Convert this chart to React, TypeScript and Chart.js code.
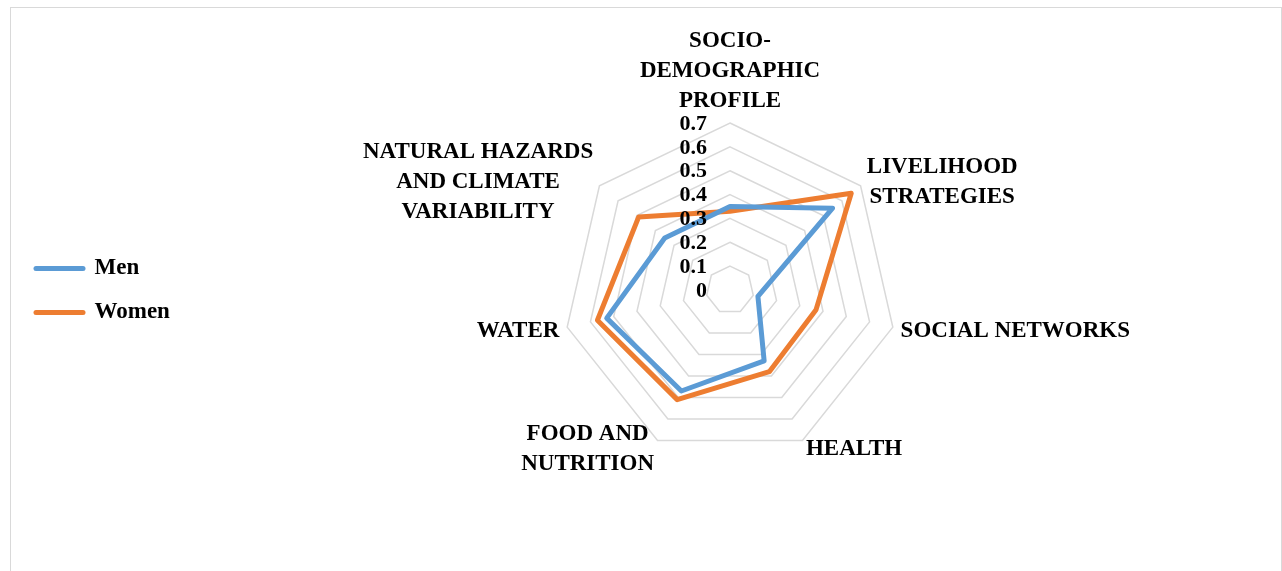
import React, { useEffect, useRef } from 'react';
import { Chart, registerables } from 'chart.js';

Chart.register(...registerables);

// ---- data ----
const categories: string[][] = [
  ['SOCIO-', 'DEMOGRAPHIC', 'PROFILE'],
  ['LIVELIHOOD', 'STRATEGIES'],
  ['SOCIAL NETWORKS'],
  ['HEALTH'],
  ['FOOD AND', 'NUTRITION'],
  ['WATER'],
  ['NATURAL HAZARDS', 'AND CLIMATE', 'VARIABILITY'],
];
const menValues = [0.35, 0.55, 0.12, 0.33, 0.47, 0.53, 0.35];
const womenValues = [0.33, 0.65, 0.37, 0.38, 0.51, 0.57, 0.49];
const tickLabels = ['0', '0.1', '0.2', '0.3', '0.4', '0.5', '0.6', '0.7'];
const seriesNames = ['Men', 'Women'];
const seriesColors = ['#5B9BD5', '#ED7D31'];

const FONT_FAMILY = "'Liberation Serif', 'Times New Roman', serif";

const excelLabelsPlugin = {
  id: 'excelLabels',
  afterDatasetsDraw(chart: any) {
    const scale = chart.scales.r;
    const ctx: CanvasRenderingContext2D = chart.ctx;
    ctx.save();
    ctx.fillStyle = '#000';
    // radial tick labels, right-aligned left of the vertical axis
    ctx.font = `bold 22px ${FONT_FAMILY}`;
    ctx.textAlign = 'right';
    ctx.textBaseline = 'middle';
    tickLabels.forEach((t) => {
      const d = scale.getDistanceFromCenterForValue(parseFloat(t));
      ctx.fillText(t, scale.xCenter - 23, scale.yCenter - d + 1);
    });
    // category labels
    ctx.font = `bold 23px ${FONT_FAMILY}`;
    ctx.textAlign = 'center';
    ctx.textBaseline = 'alphabetic';
    const LH = 30;
    const CAP = 7.6;
    (chart.data.labels as string[][]).forEach((lines, i) => {
      const p = scale.getPointPosition(i, scale.drawingArea + 8);
      const bw = Math.max(...lines.map((l) => ctx.measureText(l).width));
      const n = lines.length;
      const dx = p.x - scale.xCenter;
      let cx: number;
      let firstBaseline: number;
      if (Math.abs(dx) < 1) {
        cx = p.x;
        firstBaseline = p.y - 8 - (n - 1) * LH;
      } else {
        cx = dx > 0 ? p.x + bw / 2 : p.x - bw / 2;
        firstBaseline = p.y - ((n - 1) / 2) * LH + CAP;
      }
      lines.forEach((l, k) => ctx.fillText(l, cx, firstBaseline + k * LH));
    });
    ctx.restore();
  },
};

export default function App() {
  const canvasRef = useRef<HTMLCanvasElement | null>(null);

  useEffect(() => {
    document.documentElement.style.overflow = 'hidden';
    const canvas = canvasRef.current;
    if (!canvas) return;
    const series = [menValues, womenValues];
    const defaultGen = (Chart.defaults as any).plugins.legend.labels.generateLabels;
    const chart = new Chart(canvas, {
      type: 'radar',
      data: {
        labels: categories as any,
        datasets: series.map((vals, i) => ({
          label: seriesNames[i],
          data: vals,
          borderColor: seriesColors[i],
          backgroundColor: seriesColors[i],
          borderWidth: 5,
          fill: false,
          pointRadius: 0,
          pointHoverRadius: 0,
          borderJoinStyle: 'round',
          borderCapStyle: 'round',
          tension: 0,
        })) as any,
      },
      options: {
        responsive: false,
        animation: false,
        layout: { padding: { left: 4, right: -2, top: 115, bottom: 114 } },
        plugins: {
          legend: {
            position: 'left',
            labels: {
              usePointStyle: true,
              pointStyle: 'line',
              pointStyleWidth: 47,
              padding: 21,
              color: '#000',
              font: { family: FONT_FAMILY, size: 23, weight: 'bold' },
              generateLabels: (c: any) =>
                defaultGen(c).map((l: any, i: number) => ({
                  ...l,
                  lineCap: 'round',
                  lineWidth: 5,
                  strokeStyle: seriesColors[i],
                })),
            },
          },
          tooltip: { enabled: false },
        },
        scales: {
          r: {
            min: 0,
            max: 0.7,
            ticks: { stepSize: 0.1, display: false },
            grid: { color: '#d9d9d9', lineWidth: 1.5 },
            angleLines: { display: false },
            pointLabels: { display: false },
          },
        },
      } as any,
      plugins: [excelLabelsPlugin],
    });
    return () => chart.destroy();
  }, []);

  return (
    <div
      style={{
        position: 'absolute',
        left: 10,
        top: 7,
        width: 1272,
        height: 566,
        border: '1px solid #d9d9d9',
        boxSizing: 'border-box',
        background: '#fff',
      }}
    >
      <canvas ref={canvasRef} width={1270} height={564} style={{ display: 'block' }} />
    </div>
  );
}
